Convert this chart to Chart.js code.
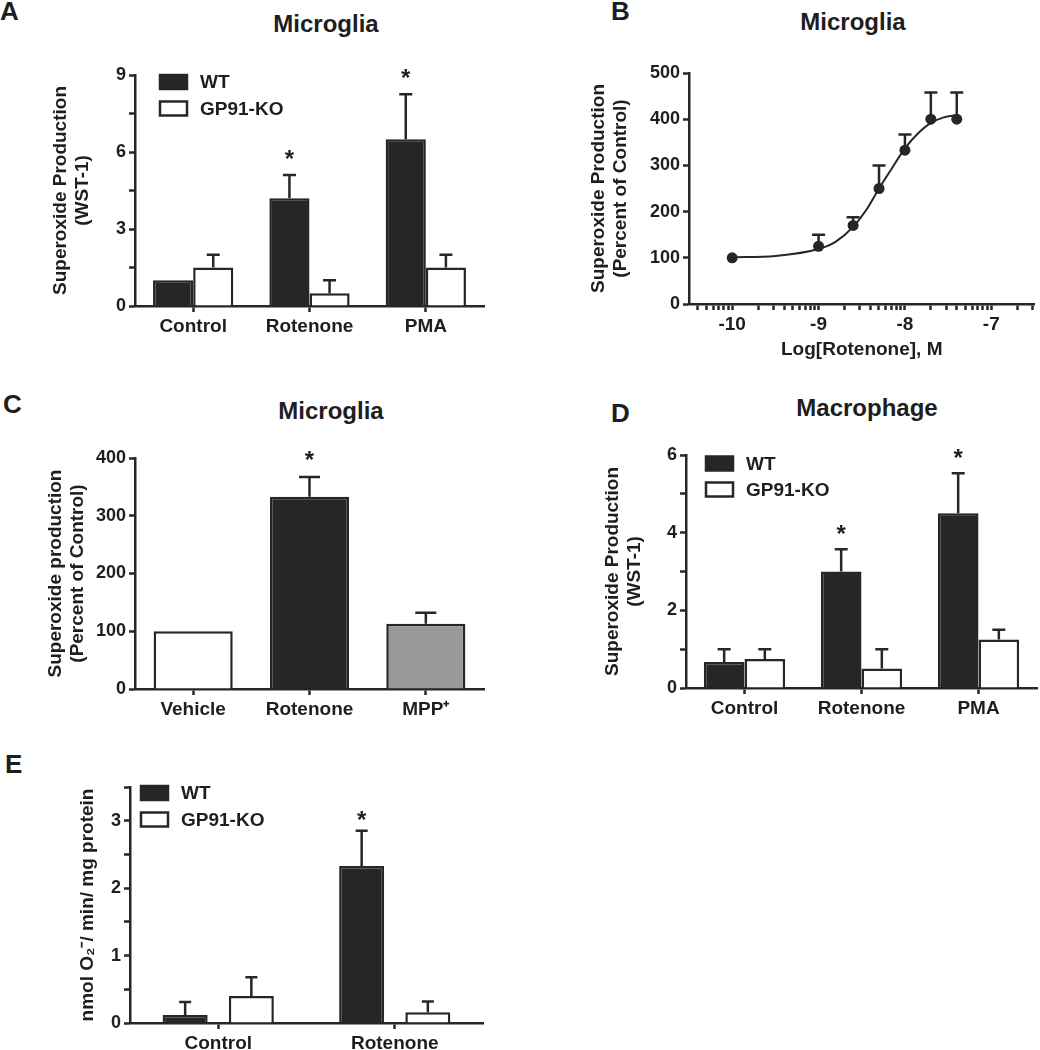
<!DOCTYPE html>
<html>
<head>
<meta charset="utf-8">
<script src="https://cdn.jsdelivr.net/npm/chart.js@4.4.1/dist/chart.umd.min.js"></script>
<style>
html, body { margin: 0; padding: 0; background: #fff; }
body { width: 1040px; height: 1050px; position: relative; overflow: hidden;
       font-family: "Liberation Sans", Arial, Helvetica, sans-serif; color: #1e1e1e; }
canvas { position: absolute; }
.letter { position: absolute; font-weight: bold; font-size: 26px; line-height: 1; }
.ttl { position: absolute; font-weight: bold; font-size: 24px; line-height: 1;
       white-space: nowrap; transform: translateX(-50%); }
</style>
</head>
<body>
<div class="letter" style="left:0px;top:-2px">A</div>
<div class="letter" style="left:611px;top:-2px">B</div>
<div class="letter" style="left:3px;top:391px">C</div>
<div class="letter" style="left:611px;top:400px">D</div>
<div class="letter" style="left:5px;top:751px">E</div>

<div class="ttl" style="left:326px;top:12px">Microglia</div>
<div class="ttl" style="left:853px;top:10px">Microglia</div>
<div class="ttl" style="left:331px;top:399px">Microglia</div>
<div class="ttl" style="left:867px;top:396px">Macrophage</div>

<canvas id="chartA"></canvas>
<canvas id="chartB"></canvas>
<canvas id="chartC"></canvas>
<canvas id="chartD"></canvas>
<canvas id="chartE"></canvas>

<script>
// ---- data ----
// A: microglia, WST-1
const groupsA = ['Control', 'Rotenone', 'PMA'];
const wtA = [1.0, 4.2, 6.5];
const wtErrA = [null, 5.1, 8.25];
const koA = [1.5, 0.5, 1.5];
const koErrA = [2.0, 1.0, 2.0];
const sigA = ['', '*', '*'];
const yMajorA = [0, 3, 6, 9];
const yMinorA = [1.5, 4.5, 7.5];

// B: rotenone dose response
const logRotB = [-10, -9, -8.6, -8.3, -8, -7.7, -7.4];
const respB = [100, 125, 170, 250, 333, 400, 400];
const respErrB = [null, 150, 188, 300, 367, 458, 458];
const fitXB = [-10, -9.5, -9, -8.8, -8.6, -8.45, -8.3, -8.15, -8, -7.85, -7.7, -7.55, -7.4];
const fitYB = [101, 104, 119, 135, 167, 203, 250, 294, 337, 369, 392, 404, 409];
const xMajorB = [-10, -9, -8, -7];

// C: microglia, percent of control
const groupsC = ['Vehicle', 'Rotenone', 'MPP\u207A'];
const valsC = [100, 333, 113];
const errC = [null, 367, 132];
const sigC = ['', '*', ''];

// D: macrophage, WST-1
const groupsD = ['Control', 'Rotenone', 'PMA'];
const wtD = [0.67, 3.0, 4.5];
const wtErrD = [1.0, 3.57, 5.53];
const koD = [0.75, 0.5, 1.25];
const koErrD = [1.0, 1.0, 1.5];
const sigD = ['', '*', '*'];
const yMajorD = [0, 2, 4, 6];
const yMinorD = [1, 3, 5];

// E: nmol O2- / min / mg protein
const groupsE = ['Control', 'Rotenone'];
const wtE = [0.12, 2.33];
const wtErrE = [0.31, 2.85];
const koE = [0.4, 0.16];
const koErrE = [0.68, 0.32];
const sigE = ['', '*'];
const yMajorE = [0, 1, 2, 3];
const yMinorE = [0.5, 1.5, 2.5, 3.5];

// ---- styling ----
const FONT = '"Liberation Sans", Arial, Helvetica, sans-serif';
const INK = '#1e1e1e';
const DARK = '#262626';
const GREY = '#999999';

Chart.defaults.font.family = FONT;
Chart.defaults.font.weight = 'bold';
Chart.defaults.color = INK;

// error bars (upward only) + significance stars
const errorBars = {
  id: 'errorBars',
  afterDatasetsDraw(chart, args, opts) {
    const ctx = chart.ctx;
    const ys = chart.scales.y;
    chart.data.datasets.forEach((ds, di) => {
      if (!ds.errs) return;
      const meta = chart.getDatasetMeta(di);
      meta.data.forEach((el, i) => {
        const e = ds.errs[i];
        let top = el.y;
        ctx.save();
        if (e != null) {
          top = ys.getPixelForValue(e);
          ctx.strokeStyle = DARK;
          ctx.lineWidth = 2.5;
          ctx.beginPath();
          ctx.moveTo(el.x, el.y);
          ctx.lineTo(el.x, top);
          ctx.moveTo(el.x - opts.cap / 2, top);
          ctx.lineTo(el.x + opts.cap / 2, top);
          ctx.stroke();
        }
        if (ds.stars && ds.stars[i]) {
          ctx.fillStyle = INK;
          ctx.font = 'bold 24px ' + FONT;
          ctx.textAlign = 'center';
          ctx.textBaseline = 'alphabetic';
          ctx.fillText(ds.stars[i], el.x, top - opts.starGap);
        }
        ctx.restore();
      });
    });
  }
};

// legend drawn inside the plot area
const boxLegend = {
  id: 'boxLegend',
  afterDraw(chart, args, o) {
    if (!o || !o.show) return;
    const ctx = chart.ctx;
    const area = chart.chartArea;
    chart.data.datasets.forEach((ds, i) => {
      const x = area.left + o.x;
      const y = area.top + o.y + i * o.step;
      ctx.save();
      ctx.fillStyle = ds.backgroundColor;
      ctx.fillRect(x, y, 27, 14);
      ctx.strokeStyle = DARK;
      ctx.lineWidth = 2.5;
      ctx.strokeRect(x, y, 27, 14);
      ctx.fillStyle = INK;
      ctx.font = 'bold 19px ' + FONT;
      ctx.textBaseline = 'middle';
      ctx.fillText(ds.label, x + 40, y + 8);
      ctx.restore();
    });
  }
};

function place(id, area, wy, hx, padRight) {
  const c = document.getElementById(id);
  const padTop = 15;
  const left = area.l - wy, top = area.t - padTop;
  c.width = area.r + padRight - left;
  c.height = area.b + hx - top;
  c.style.left = left + 'px';
  c.style.top = top + 'px';
  return { canvas: c, padding: { top: padTop, right: padRight, left: 0, bottom: 0 } };
}

function gridOpts(offset) {
  return { drawOnChartArea: false, offset: offset, tickLength: 6, tickWidth: 2.5, tickColor: DARK };
}
const borderOpts = { color: DARK, width: 2.5 };

function yAxis(max, major, minor, title, width) {
  return {
    min: 0, max: max,
    afterBuildTicks: s => { s.ticks = major.concat(minor).sort((a, b) => a - b).map(v => ({ value: v })); },
    afterFit: s => { s.width = width; },
    ticks: { font: { size: 18 }, padding: 3, autoSkip: false,
             callback: v => major.includes(v) ? String(v) : '' },
    grid: gridOpts(false),
    border: borderOpts,
    title: { display: true, text: title, padding: 0, font: { size: 19 } }
  };
}

function catAxis(height) {
  return {
    afterFit: s => { s.height = height; },
    ticks: { font: { size: 19 }, padding: 3, maxRotation: 0, autoSkip: false },
    grid: gridOpts(false),
    border: borderOpts
  };
}

function basePlugins(cap, starGap, legend) {
  return {
    legend: { display: false },
    tooltip: { enabled: false },
    errorBars: { cap: cap, starGap: starGap },
    boxLegend: legend
  };
}

function pairedBars(id, area, wy, hx, padRight, labels, wt, wtErr, ko, koErr, sig, yMax, yMaj, yMin, yTitle, catPct, barPct, cap, starGap, legend) {
  const p = place(id, area, wy, hx, padRight);
  return new Chart(p.canvas, {
    type: 'bar',
    data: {
      labels: labels,
      datasets: [
        { label: 'WT', data: wt, errs: wtErr, stars: sig,
          backgroundColor: DARK, borderColor: DARK, borderWidth: 2.5,
          categoryPercentage: catPct, barPercentage: barPct },
        { label: 'GP91-KO', data: ko, errs: koErr,
          backgroundColor: '#ffffff', borderColor: DARK, borderWidth: 2.5,
          categoryPercentage: catPct, barPercentage: barPct }
      ]
    },
    options: {
      responsive: false, animation: false, devicePixelRatio: 1,
      layout: { padding: p.padding },
      scales: { x: catAxis(hx), y: yAxis(yMax, yMaj, yMin, yTitle, wy) },
      plugins: basePlugins(cap, starGap, legend)
    },
    plugins: [errorBars, boxLegend]
  });
}

// A
pairedBars('chartA', { l: 135, r: 484, t: 75, b: 306 }, 86, 40, 8,
  groupsA, wtA, wtErrA, koA, koErrA, sigA, 9, yMajorA, yMinorA,
  ['Superoxide Production', '(WST-1)'], 0.69, 1.0, 13, 8,
  { show: true, x: 25, y: 0, step: 26.5 });

// B
(function () {
  const p = place('chartB', { l: 689, r: 1039, t: 73, b: 304 }, 102, 57, 1);
  const xTicksB = [];
  for (let d = -11; d <= -7; d++) {
    for (let k = 1; k <= 9; k++) {
      const v = k === 1 ? d : d + Math.log10(k);
      if (v >= -10.5 && v <= -6.5) xTicksB.push(v);
    }
  }
  new Chart(p.canvas, {
    type: 'scatter',
    data: {
      datasets: [
        { label: 'Microglia', data: logRotB.map((x, i) => ({ x: x, y: respB[i] })), errs: respErrB,
          pointRadius: 5.5, pointHoverRadius: 5.5, backgroundColor: DARK, borderColor: DARK, borderWidth: 0 },
        { type: 'line', label: 'fit', data: fitXB.map((x, i) => ({ x: x, y: fitYB[i] })),
          borderColor: DARK, borderWidth: 2, pointRadius: 0, fill: false,
          cubicInterpolationMode: 'monotone' }
      ]
    },
    options: {
      responsive: false, animation: false, devicePixelRatio: 1,
      layout: { padding: p.padding },
      scales: {
        x: {
          type: 'linear', min: -10.5, max: -6.5,
          afterBuildTicks: s => { s.ticks = xTicksB.map(v => ({ value: v })); },
          afterFit: s => { s.height = 57; },
          ticks: { font: { size: 19 }, padding: 3, maxRotation: 0, autoSkip: false,
                   callback: v => xMajorB.includes(v) ? String(v) : '' },
          grid: gridOpts(false),
          border: borderOpts,
          title: { display: true, text: 'Log[Rotenone], M', padding: 0, font: { size: 19 } }
        },
        y: {
          min: 0, max: 500,
          afterFit: s => { s.width = 102; },
          ticks: { stepSize: 100, font: { size: 18 }, padding: 3 },
          grid: gridOpts(false),
          border: borderOpts,
          title: { display: true, text: ['Superoxide Production', '(Percent of Control)'], padding: 0, font: { size: 19 } }
        }
      },
      plugins: basePlugins(13, 8, { show: false })
    },
    plugins: [errorBars]
  });
})();

// C
(function () {
  const p = place('chartC', { l: 135, r: 484, t: 458, b: 689 }, 91, 40, 8);
  new Chart(p.canvas, {
    type: 'bar',
    data: {
      labels: groupsC,
      datasets: [
        { label: 'Microglia', data: valsC, errs: errC, stars: sigC,
          backgroundColor: ['#ffffff', DARK, GREY], borderColor: DARK, borderWidth: 2.5,
          categoryPercentage: 0.68, barPercentage: 1.0 }
      ]
    },
    options: {
      responsive: false, animation: false, devicePixelRatio: 1,
      layout: { padding: p.padding },
      scales: {
        x: catAxis(40),
        y: {
          min: 0, max: 400,
          afterFit: s => { s.width = 91; },
          ticks: { stepSize: 100, font: { size: 18 }, padding: 3 },
          grid: gridOpts(false),
          border: borderOpts,
          title: { display: true, text: ['Superoxide production', '(Percent of Control)'], padding: 0, font: { size: 19 } }
        }
      },
      plugins: basePlugins(21, 9, { show: false })
    },
    plugins: [errorBars]
  });
})();

// D
pairedBars('chartD', { l: 686, r: 1037, t: 455, b: 688 }, 85, 40, 3,
  groupsD, wtD, wtErrD, koD, koErrD, sigD, 6, yMajorD, yMinorD,
  ['Superoxide Production', '(WST-1)'], 0.695, 1.0, 13, 7,
  { show: true, x: 20, y: 1.5, step: 26 });

// E
pairedBars('chartE', { l: 130, r: 483, t: 787, b: 1023 }, 54, 27, 8,
  groupsE, wtE, wtErrE, koE, koErrE, sigE, 3.5, yMajorE, yMinorE,
  'nmol O\u2082\u207B/ min/ mg protein', 0.75, 0.68, 12, 3,
  { show: true, x: 11, y: -1, step: 26.5 });
</script>
</body>
</html>
